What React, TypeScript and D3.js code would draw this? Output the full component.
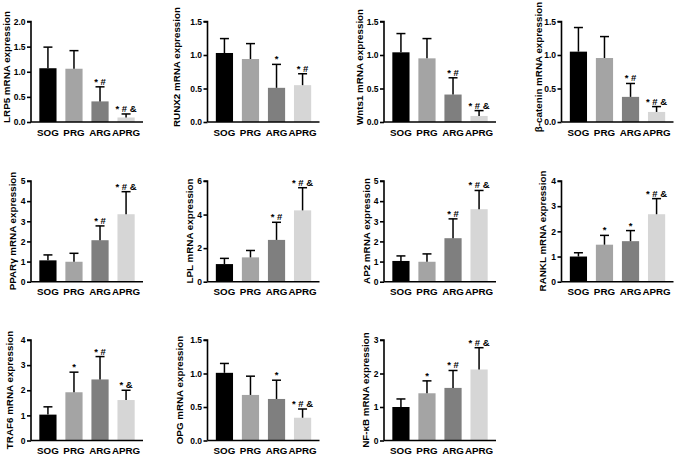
import React, { useEffect, useRef } from "react";
import * as d3 from "d3";

const categories = ["SOG", "PRG", "ARG", "APRG"];
const genes = [
  "LRP5", "RUNX2", "Wnts1", "β-catenin",
  "PPARγ", "LPL", "AP2", "RANKL",
  "TRAF6", "OPG", "NF-κB",
];
const meanValues = [
  [1.07, 1.06, 0.41, 0.09],
  [1.03, 0.94, 0.51, 0.55],
  [1.04, 0.95, 0.41, 0.09],
  [1.05, 0.955, 0.375, 0.15],
  [1.06, 0.99, 2.06, 3.35],
  [1.05, 1.45, 2.49, 4.25],
  [1.03, 0.99, 2.16, 3.6],
  [1.0, 1.47, 1.61, 2.68],
  [1.03, 1.92, 2.43, 1.61],
  [1.01, 0.68, 0.62, 0.34],
  [1.0, 1.41, 1.57, 2.12],
];
const errorTops = [
  [1.49, 1.42, 0.7, 0.16],
  [1.245, 1.17, 0.86, 0.72],
  [1.32, 1.245, 0.66, 0.17],
  [1.41, 1.275, 0.575, 0.23],
  [1.33, 1.41, 2.77, 4.47],
  [1.39, 1.86, 3.54, 5.6],
  [1.28, 1.38, 3.12, 4.53],
  [1.15, 1.84, 2.03, 3.3],
  [1.34, 2.72, 3.34, 2.0],
  [1.15, 0.96, 0.9, 0.47],
  [1.24, 1.78, 2.09, 2.77],
];
const sigLabels = [
  ["", "", "*#", "*#&"],
  ["", "", "*", "*#"],
  ["", "", "*#", "*#&"],
  ["", "", "*#", "*#&"],
  ["", "", "*#", "*#&"],
  ["", "", "*#", "*#&"],
  ["", "", "*#", "*#&"],
  ["", "*", "*", "*#&"],
  ["", "*", "*#", "*&"],
  ["", "", "*", "*#&"],
  ["", "*", "*#", "*#&"],
];
const yMaxValues = [2, 1.5, 1.5, 1.5, 5, 6, 5, 4, 4, 1.5, 3];
const yTickStep = [0.5, 0.5, 0.5, 0.5, 1, 2, 1, 1, 1, 0.5, 1];
const tickDecimals = [1, 1, 1, 1, 0, 0, 0, 0, 0, 1, 0];

const barColors = ["#000000", "#a4a4a4", "#7f7f7f", "#d6d6d6"];

// layout
const colAxisX = [31, 207.5, 384, 561.5];
const rowY = [
  [21.5, 122],
  [181, 281.7],
  [340, 440.5],
];
const labelX = [6, 176.5, 359.5, 538, 12, 189, 366.5, 542.5, 9, 179, 365.5];
const labelCY = [67, 231, 390];
const FONT = "'Liberation Sans', Arial, sans-serif";

export default function App() {
  const ref = useRef<SVGSVGElement | null>(null);
  useEffect(() => {
    const svg = d3.select(ref.current);
    svg.selectAll("*").remove();
    svg.append("rect").attr("width", 678).attr("height", 457).attr("fill", "#fff");

    genes.forEach((gene, i) => {
      const col = i % 4;
      const row = Math.floor(i / 4);
      const ax = colAxisX[col];
      const [yTop, yZero] = rowY[row];
      const g = svg.append("g").attr("transform", `translate(${ax},0)`);

      const x = d3
        .scaleBand<string>()
        .domain(categories)
        .range([0, 112])
        .paddingInner(0.34)
        .paddingOuter(0.32);
      const y = d3.scaleLinear().domain([0, yMaxValues[i]]).range([yZero, yTop]);

      const means = meanValues[i];
      const errs = errorTops[i];

      // bars
      g.selectAll("rect.bar")
        .data(categories)
        .join("rect")
        .attr("x", (c) => x(c)!)
        .attr("width", x.bandwidth())
        .attr("y", (c, k) => y(means[k]))
        .attr("height", (c, k) => yZero - y(means[k]))
        .attr("fill", (c, k) => barColors[k]);

      // error bars
      categories.forEach((c, k) => {
        const cx = x(c)! + x.bandwidth() / 2;
        g.append("line")
          .attr("x1", cx).attr("x2", cx)
          .attr("y1", y(means[k])).attr("y2", y(errs[k]))
          .attr("stroke", "#000").attr("stroke-width", 1.5);
        g.append("line")
          .attr("x1", cx - 4.5).attr("x2", cx + 4.5)
          .attr("y1", y(errs[k])).attr("y2", y(errs[k]))
          .attr("stroke", "#000").attr("stroke-width", 1.5);
        const lab = sigLabels[i][k];
        if (lab) {
          g.append("text")
            .attr("x", cx)
            .attr("y", y(errs[k]) - 2)
            .attr("text-anchor", "middle")
            .attr("font-family", FONT)
            .attr("font-weight", "bold")
            .attr("font-size", 9.5)
            .attr("fill", "#000")
            .text(lab.split("").join(" "));
        }
      });

      // y axis
      const ticks = d3.range(0, yMaxValues[i] + 1e-9, yTickStep[i]);
      const yAxis = d3
        .axisLeft(y)
        .tickValues(ticks)
        .tickSize(4)
        .tickPadding(1.5)
        .tickFormat((d) => d3.format(`.${tickDecimals[i]}f`)(d as number));
      const ya = g.append("g").call(yAxis);
      ya.select(".domain").attr("stroke-width", 1.6).attr("d", `M-4,${yTop}H0V${yZero}`);
      ya.selectAll(".tick line").attr("stroke-width", 1.6);
      ya.selectAll(".tick text")
        .attr("font-family", FONT)
        .attr("font-weight", "bold")
        .attr("font-size", 8.5)
        .attr("fill", "#000");

      // x axis
      g.append("line")
        .attr("x1", 0).attr("x2", 112)
        .attr("y1", yZero).attr("y2", yZero)
        .attr("stroke", "#000").attr("stroke-width", 1.6);
      categories.forEach((c) => {
        g.append("text")
          .attr("x", x(c)! + x.bandwidth() / 2)
          .attr("y", yZero + 13.5)
          .attr("text-anchor", "middle")
          .attr("font-family", FONT)
          .attr("font-weight", "bold")
          .attr("font-size", 9.8)
          .attr("fill", "#000")
          .text(c);
      });

      // y label
      svg.append("text")
        .attr("transform", `translate(${labelX[i] + 3.5},${labelCY[row]}) rotate(-90)`)
        .attr("text-anchor", "middle")
        .attr("font-family", FONT)
        .attr("font-weight", "bold")
        .attr("font-size", 9.8)
        .attr("fill", "#000")
        .text(`${gene} mRNA expression`);
    });
  }, []);

  return (
    <svg
      ref={ref}
      width={678}
      height={457}
      style={{ position: "absolute", left: 0, top: 0 }}
    />
  );
}
